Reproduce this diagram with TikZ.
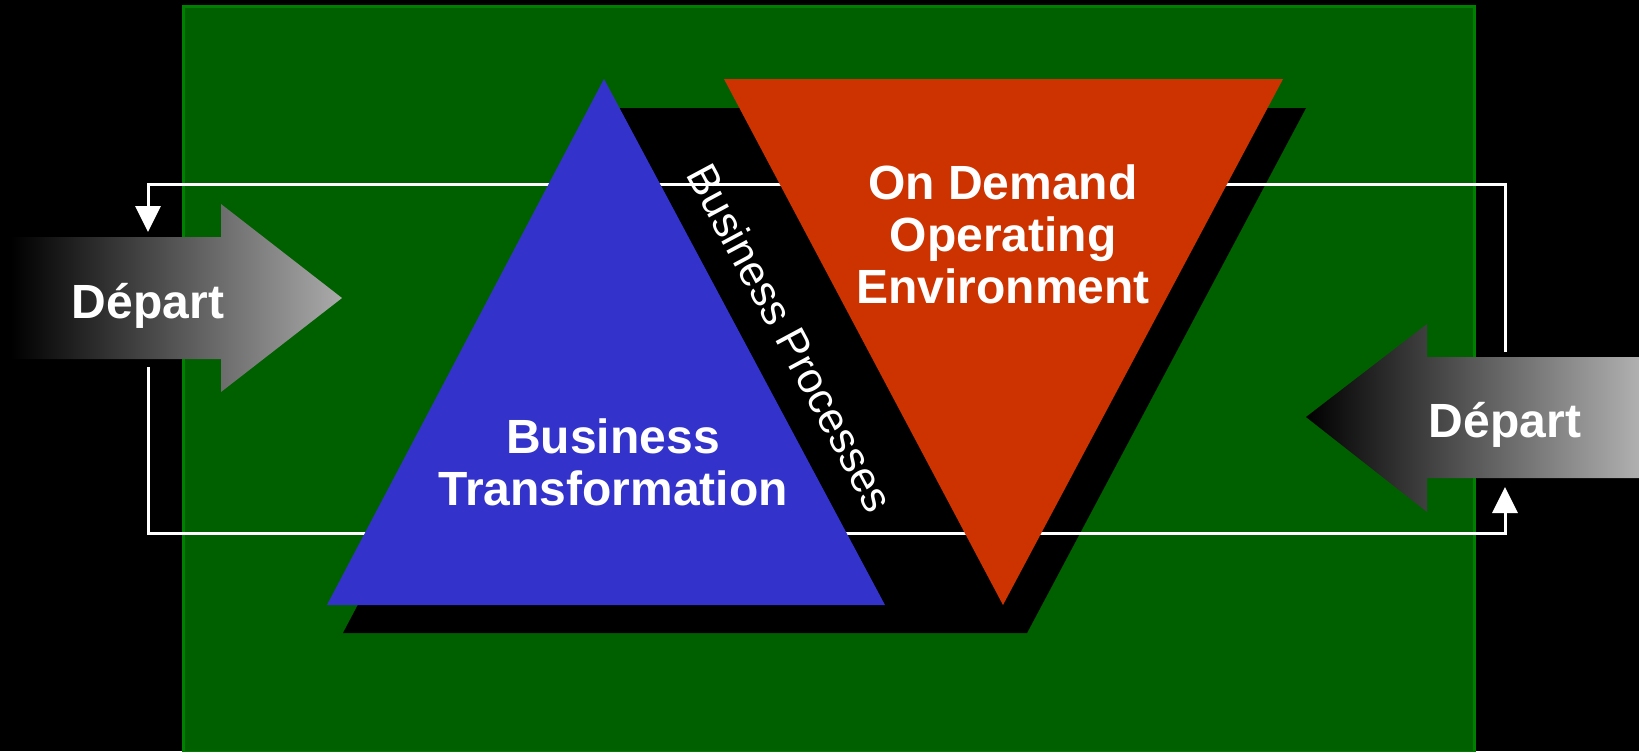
\documentclass[tikz,border=0pt]{standalone}
\usepackage{fontspec}
\setmainfont{Liberation Sans}
\usetikzlibrary{arrows.meta}
\definecolor{fieldgreen}{HTML}{006000}
\definecolor{rimgreen}{HTML}{008000}
\definecolor{trblue}{HTML}{3333CC}
\definecolor{trred}{HTML}{CC3300}
\tikzset{every picture/.style={font issue=\bfseries},
         font issue/.style={execute at begin picture={#1\selectfont}},
         bigtext/.style={align=center, text=white, font=\fontsize{24}{26}\selectfont\bfseries},
         loopline/.style={draw=white, line width=1.5pt, -{Triangle[width=12.5pt, length=13pt]}}
}

\begin{document}
\begin{tikzpicture}[x=0.5pt, y=-0.5pt]
        \useasboundingbox (0,0) rectangle (1639,751);
        \fill [black] (0,0) rectangle (1639,751);
        \draw [fill=fieldgreen, draw=rimgreen, line width=1.5pt] (183,6) rectangle (1474,752);
        \fill [black] (620,108) -- (1306,108) -- (1027,633) -- (343,633) -- cycle;
        % the loop
        \coordinate (rtop) at (1505,352);
        \coordinate (ltip) at (148,232);
        \coordinate (lbot) at (148,367);
        \coordinate (rtip) at (1505,487);
        \draw [loopline] (rtop) |- (148,184) -- (ltip);
        \draw [loopline] (lbot) |- (1505,533) -- (rtip);
        % triangles
        \fill [trblue] (604,79) -- (885,605) -- (327,605) -- cycle;
        \fill [trred] (724,79) -- (1283,79) -- (1003,605) -- cycle;
        \node [bigtext] (ondemand) at (1003,234) {On Demand\\Operating\\Environment};
        \node [bigtext] (biztrans) at (613,462) {Business\\Transformation};
        \node [text=white, rotate=-61.8, font=\normalfont\fontsize{21.5}{24}\selectfont] (bizproc) at (791,338) {Business Processes};
        % the two arrows
        \shade [left color=black, right color=black!33] (11,237) -- (221,237) -- (221,204) -- (342,298) -- (221,392) -- (221,359) -- (11,359) -- cycle;
        \shade [left color=black, right color=black!31] (1639,357) -- (1427,357) -- (1427,324) -- (1306,417) -- (1427,512) -- (1427,478) -- (1639,478) -- cycle;
        \node [text=white, font=\fontsize{24}{26}\selectfont\bfseries, anchor=base] (departl) at (148,318) {Départ};
        \node [text=white, font=\fontsize{24}{26}\selectfont\bfseries, anchor=base] (departr) at (1505,437) {Départ};
      \end{tikzpicture}
\end{document}
